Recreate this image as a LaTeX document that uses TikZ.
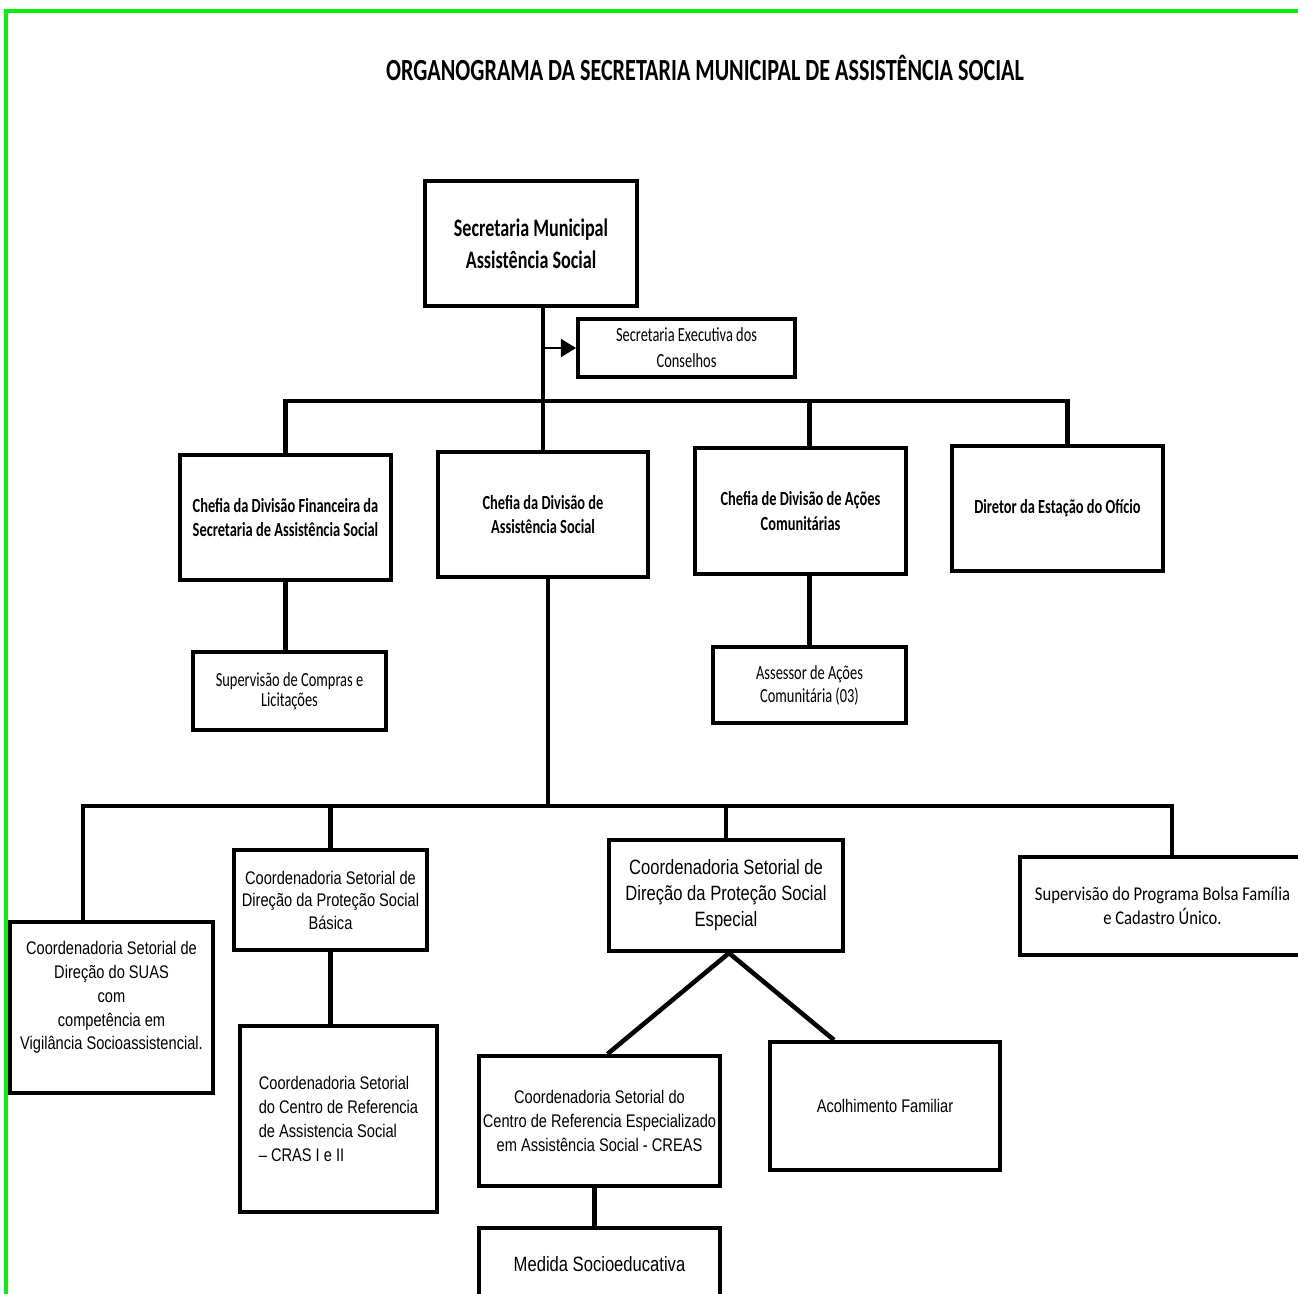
\documentclass[tikz,border=0pt]{standalone}
\usepackage{fontspec}
\usepackage{tikz}
\usetikzlibrary{arrows.meta}
\newfontfamily\calb[FakeStretch=0.72]{Carlito}
\newfontfamily\calw[FakeStretch=0.85]{Carlito}
\newfontfamily\arnw[FakeStretch=0.8]{Liberation Sans}
\definecolor{framegreen}{RGB}{10,240,10}

\begin{document}
\begin{tikzpicture}[
  x=0.2mm, y=-0.2mm,
  box/.style={draw=black, line width=2.3pt, fill=white, align=center, inner sep=1pt},
  head/.style={box, font=\calb\bfseries\fontsize{11.4pt}{14.2pt}\selectfont},
  sub/.style={box, font=\calb\fontsize{11.4pt}{13pt}\selectfont},
  coord/.style={box, font=\arnw\fontsize{10.4pt}{13.6pt}\selectfont},
  bigcoord/.style={box, font=\arnw\fontsize{11.8pt}{14.8pt}\selectfont},
  conn/.style={line width=2.6pt},
  arr/.style={-{Triangle[length=3mm, width=3.6mm]}, line width=1pt}
]
\useasboundingbox (0,0) rectangle (1298,1293);
\fill[white] (0,0) rectangle (1298,1293);
\clip (0,0) rectangle (1298,1293);
% --- frame and title ---
\draw[framegreen, line width=2.2pt] (6,1330) -- (6,11) -- (1330,11);
\node[font=\calb\bfseries\fontsize{17.5pt}{20pt}\selectfont] (title) at (705,68)
  {ORGANOGRAMA DA SECRETARIA MUNICIPAL DE ASSISTÊNCIA SOCIAL};
% --- top level ---
\node[box, font=\calb\bfseries\fontsize{14.3pt}{18.2pt}\selectfont,
      minimum width=42.4mm, minimum height=25mm] (sec) at (531,243.5)
  {Secretaria Municipal\\ Assistência Social};
\node[sub, font=\calb\fontsize{11.4pt}{14.8pt}\selectfont,
      minimum width=43.4mm, minimum height=11.6mm] (exec) at (686.5,348)
  {Secretaria Executiva dos\\ Conselhos};
% --- divisions ---
\node[head, minimum width=42.2mm, minimum height=25mm] (fin) at (285.5,517.5)
  {Chefia da Divisão Financeira da\\ Secretaria de Assistência Social};
\node[head, minimum width=42mm, minimum height=25mm] (das) at (543,514.5)
  {Chefia da Divisão de\\ Assistência Social};
\node[head, minimum width=42.2mm, minimum height=25.2mm] (aco) at (800.5,511)
  {Chefia de Divisão de Ações\\ Comunitárias};
\node[head, minimum width=42.2mm, minimum height=25mm] (dir) at (1057.5,508.5)
  {Diretor da Estação do Ofício};
\node[sub, font=\calb\fontsize{11.4pt}{11.4pt}\selectfont,
      minimum width=38.6mm, minimum height=15.6mm] (comp) at (289.5,691)
  {Supervisão de Compras e\\ Licitações};
\node[sub, minimum width=38.6mm, minimum height=15.2mm] (ass) at (809.5,685)
  {Assessor de Ações\\ Comunitária (03)};
% --- coordinations ---
\node[coord, minimum width=40.6mm, minimum height=34.2mm] (suas) at (111.5,1007.5)
  {Coordenadoria Setorial de\\ Direção do SUAS\\ com\\ competência em\\
   Vigilância Socioassistencial.\\ \mbox{}};
\node[coord, font=\arnw\fontsize{10.4pt}{12.8pt}\selectfont,
      minimum width=38.6mm, minimum height=20mm] (bas) at (330.5,900)
  {Coordenadoria Setorial de\\ Direção da Proteção Social\\ Básica};
\node[coord, align=left, minimum width=39.4mm, minimum height=37.2mm] (cras) at (338.5,1119)
  {Coordenadoria Setorial\\ do Centro de Referencia\\ de Assistencia Social\\ – CRAS I e II};
\node[bigcoord, minimum width=46.8mm, minimum height=22.2mm] (esp) at (726,895.5)
  {Coordenadoria Setorial de\\ Direção da Proteção Social\\ Especial};
\node[box, font=\calw\fontsize{11.1pt}{13.7pt}\selectfont,
      minimum width=57mm, minimum height=19.6mm] (bolsa) at (1162.5,906)
  {Supervisão do Programa Bolsa Família\\ e Cadastro Único.};
\node[coord, minimum width=48.2mm, minimum height=26mm] (creas) at (599.5,1121)
  {Coordenadoria Setorial do\\ Centro de Referencia Especializado\\ em Assistência Social - CREAS};
\node[coord, minimum width=46mm, minimum height=25.6mm] (acol) at (885,1106)
  {Acolhimento Familiar};
\node[bigcoord, minimum width=48.2mm, minimum height=14.4mm] (med) at (599.5,1264)
  {Medida Socioeducativa};
% --- connectors ---
\coordinate (b1) at (540,401);
\coordinate (bL) at (83,806);
\coordinate (bR) at (1172,806);
\draw[conn] (das.north |- sec.south) -- (das.north);
\draw[arr] (das.north |- exec.west) -- (exec.west);
\draw[conn] (fin.north) -- (fin.north |- b1) -- ([xshift=2mm]dir.north |- b1) -- ([xshift=2mm]dir.north);
\draw[conn] (ass.north |- b1) -- (ass.north |- aco.north);
\draw[conn] (fin.south) -- (fin.south |- comp.north);
\draw[conn] (ass.north |- aco.south) -- (ass.north);
\draw[conn] ([xshift=1mm]das.south) -- ([xshift=1mm]das.south |- bL);
\draw[conn] (bL |- suas.north) -- (bL) -- (bR) -- (bR |- bolsa.north);
\draw[conn] (bas.north |- bL) -- (bas.north);
\draw[conn] (esp.north |- bL) -- (esp.north);
\draw[conn] (bas.south) -- (bas.south |- cras.north);
\draw[conn] ([xshift=0.6mm]esp.south) -- ([xshift=1.6mm]creas.north);
\draw[conn] ([xshift=0.6mm]esp.south) -- ([xshift=-10.2mm]acol.north);
\draw[conn] ([xshift=-1mm]creas.south) -- ([xshift=-1mm]med.north);
\end{tikzpicture}
\end{document}
